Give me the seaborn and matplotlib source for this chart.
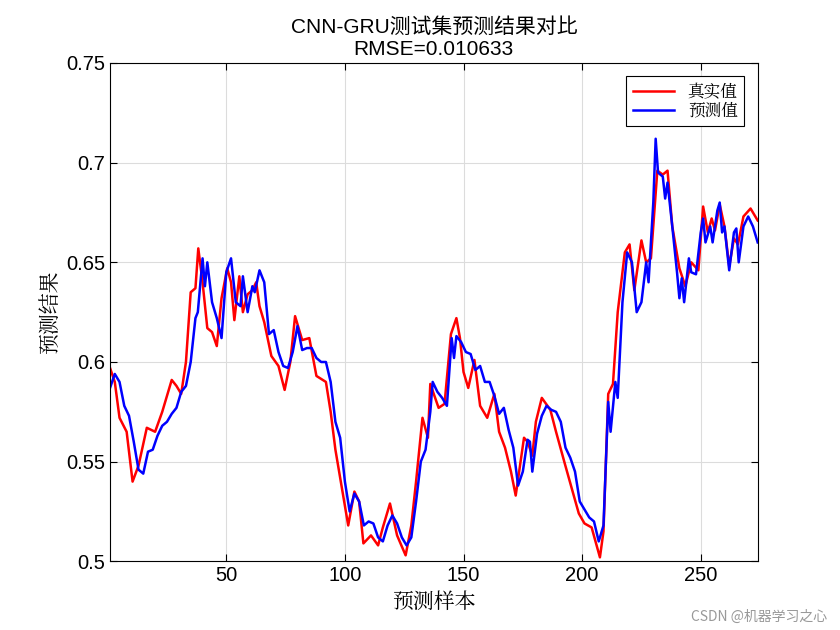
import matplotlib
matplotlib.use("Agg")
import matplotlib.pyplot as plt
import seaborn as sb
import pandas as pd

plt.rcParams["font.family"] = ["Liberation Sans", "Noto Sans CJK JP"]
SERIF_CJK = "Noto Serif CJK JP"

# true values (sample index, value)
true_x = [1, 3, 5, 8, 10.5, 13, 16.5, 20, 23, 27, 29, 31, 33, 35, 37, 38.2, 40, 42, 44, 46,
          48, 50.4, 52, 53.4, 55.5, 57, 59, 61, 62.6, 64, 66, 69, 72, 74.6, 77, 79, 82, 85,
          88, 92, 94, 96, 98.7, 101.4, 104, 106, 107.8, 111, 114, 116, 119, 122, 125.6,
          128, 130, 132.7, 135, 136, 139.5, 142, 144.7, 147, 148.5, 150, 152, 154.6, 157,
          160, 163, 165, 167.5, 170, 172, 175.5, 177, 179, 180.5, 183, 186.6, 189, 192.7,
          196, 198.6, 201, 204, 207.5, 209, 211, 213, 215, 218, 220, 222, 225, 227, 229,
          231.7, 234, 236, 238, 241, 243.5, 246, 249, 251, 253, 254.6, 256, 258, 260, 262,
          264, 265.7, 268, 271, 273, 274]
true_y = [0.597, 0.590, 0.572, 0.565, 0.540, 0.548, 0.567, 0.565, 0.575, 0.591, 0.588, 0.584,
          0.600, 0.635, 0.637, 0.657, 0.640, 0.617, 0.615, 0.608, 0.632, 0.647, 0.640, 0.621,
          0.643, 0.625, 0.634, 0.636, 0.640, 0.628, 0.620, 0.603, 0.598, 0.586, 0.600, 0.623,
          0.611, 0.612, 0.593, 0.590, 0.575, 0.556, 0.537, 0.518, 0.535, 0.530, 0.509, 0.513,
          0.508, 0.517, 0.529, 0.513, 0.503, 0.518, 0.540, 0.572, 0.562, 0.589, 0.577, 0.579,
          0.614, 0.622, 0.612, 0.595, 0.587, 0.601, 0.578, 0.572, 0.584, 0.565, 0.557, 0.545,
          0.533, 0.562, 0.560, 0.553, 0.570, 0.582, 0.576, 0.565, 0.549, 0.535, 0.524, 0.519,
          0.517, 0.502, 0.515, 0.584, 0.589, 0.625, 0.655, 0.659, 0.636, 0.661, 0.650, 0.652,
          0.696, 0.694, 0.696, 0.668, 0.647, 0.638, 0.650, 0.646, 0.678, 0.665, 0.672, 0.666,
          0.679, 0.668, 0.648, 0.662, 0.659, 0.673, 0.677, 0.673, 0.671]

pred_x = [1, 3, 5, 7, 9, 11, 13, 15, 17, 19, 21, 23, 25, 27, 29, 31, 33, 35, 37, 38, 40, 41,
          42, 44, 46, 48, 50, 52, 54, 56, 57, 59, 61, 62, 64, 66, 68, 70, 72, 74, 76, 78, 80,
          82, 84, 86, 88, 90, 92, 94, 96, 98, 100, 102, 104, 106, 108, 110, 112, 114, 116,
          118, 120, 122, 124, 126, 128, 130, 132, 134, 136, 137, 139, 141, 143, 145, 146,
          147, 149, 151, 153, 155, 157, 159, 161, 163, 165, 167, 169, 171, 173, 175, 177,
          178, 179, 181, 183, 185, 187, 189, 191, 193, 195, 197, 199, 201, 203, 205, 207,
          209, 211, 212, 214, 215, 217, 219, 221, 223, 225, 227, 228, 230, 231, 232, 234,
          235, 236, 238, 240, 241, 242, 243, 245, 246, 248, 250, 251, 252, 254, 255, 257,
          258, 259, 260, 262, 264, 265, 266, 268, 270, 272, 274]
pred_y = [0.587, 0.594, 0.590, 0.578, 0.573, 0.560, 0.546, 0.544, 0.555, 0.556, 0.563, 0.568,
          0.570, 0.574, 0.577, 0.585, 0.588, 0.600, 0.622, 0.625, 0.652, 0.638, 0.650, 0.630,
          0.622, 0.612, 0.645, 0.652, 0.630, 0.628, 0.643, 0.625, 0.638, 0.635, 0.646, 0.640,
          0.614, 0.616, 0.605, 0.598, 0.597, 0.605, 0.618, 0.606, 0.607, 0.607, 0.602, 0.600,
          0.600, 0.590, 0.570, 0.562, 0.540, 0.525, 0.534, 0.530, 0.518, 0.520, 0.519, 0.512,
          0.510, 0.518, 0.523, 0.519, 0.512, 0.508, 0.512, 0.530, 0.550, 0.556, 0.575, 0.590,
          0.585, 0.582, 0.578, 0.612, 0.602, 0.613, 0.610, 0.605, 0.604, 0.596, 0.598, 0.590,
          0.590, 0.583, 0.574, 0.577, 0.566, 0.557, 0.538, 0.545, 0.561, 0.560, 0.545, 0.564,
          0.573, 0.578, 0.576, 0.575, 0.570, 0.557, 0.552, 0.545, 0.530, 0.526, 0.522, 0.520,
          0.510, 0.518, 0.580, 0.565, 0.590, 0.582, 0.630, 0.655, 0.650, 0.625, 0.630, 0.650,
          0.640, 0.680, 0.712, 0.695, 0.693, 0.682, 0.690, 0.668, 0.645, 0.632, 0.642, 0.630,
          0.652, 0.645, 0.644, 0.665, 0.672, 0.660, 0.668, 0.660, 0.676, 0.680, 0.665, 0.668,
          0.646, 0.665, 0.667, 0.650, 0.668, 0.673, 0.668, 0.660]

df_true = pd.DataFrame({"x": true_x, "y": true_y})
df_pred = pd.DataFrame({"x": pred_x, "y": pred_y})

fig = plt.figure(figsize=(8.4, 6.3), dpi=100)
ax = fig.add_axes([0.131, 0.109, 0.771, 0.791])
sb.lineplot(data=df_true, x="x", y="y", ax=ax, color="#ff0000", lw=1.8, label="真实值")
sb.lineplot(data=df_pred, x="x", y="y", ax=ax, color="#0000ff", lw=1.8, label="预测值")

ax.set_xlim(1, 274)
ax.set_ylim(0.5, 0.75)
ax.set_xticks([50, 100, 150, 200, 250])
ax.set_yticks([0.5, 0.55, 0.6, 0.65, 0.7, 0.75])
ax.set_yticklabels(["0.5", "0.55", "0.6", "0.65", "0.7", "0.75"])
ax.tick_params(direction="in", labelsize=14.5, top=True, right=True, length=5)
ax.grid(True, color="#dcdcdc", lw=0.8)
for s in ax.spines.values():
    s.set_linewidth(0.8)
ax.set_xlabel("预测样本", fontsize=15, family=SERIF_CJK)
ax.set_ylabel("预测结果", fontsize=15, family=SERIF_CJK)
ax.set_title("CNN-GRU测试集预测结果对比\nRMSE=0.010633", fontsize=15, linespacing=1.15)
leg = ax.legend(loc="upper right", fancybox=False, edgecolor="black", framealpha=1,
                prop={"family": SERIF_CJK, "size": 12}, handlelength=2.5,
                borderaxespad=0.8, labelspacing=0.1)
leg.get_frame().set_linewidth(0.8)
fig.text(0.985, 0.015, "CSDN @机器学习之心", ha="right", fontsize=10, color="#999999",
         family="Noto Sans CJK JP")
fig.savefig("out.png")
